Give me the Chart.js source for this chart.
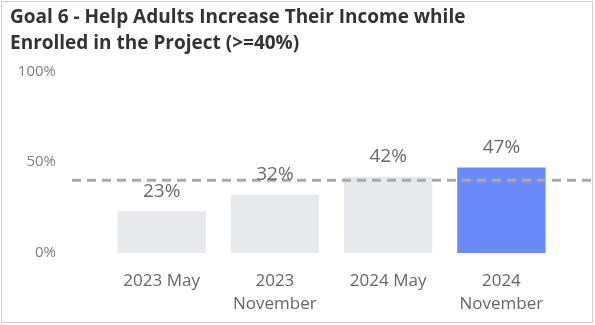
<!DOCTYPE html>
<html>
<head>
<meta charset="utf-8">
<script src="https://cdn.jsdelivr.net/npm/chart.js@4/dist/chart.umd.min.js"></script>
<style>
  html, body { margin: 0; padding: 0; background: #fff; }
  #frame {
    position: absolute; left: 1px; top: 1px;
    width: 592px; height: 322px;
    border: 1px solid #cfcfcf; box-sizing: border-box;
  }
  #wrap { position: absolute; left: 0; top: 0; width: 595px; height: 325px; }
</style>
</head>
<body>
<div id="frame"></div>
<div id="wrap"><canvas id="chart" width="595" height="325"></canvas></div>
<script>
// Reporting periods, share of enrolled adults with increased income, and the goal
const categories = [['2023 May'], ['2023', 'November'], ['2024 May'], ['2024', 'November']];
const values = [23, 32, 42, 47];
const barColors = ['#e8e9ec', '#e8e9ec', '#e8e9ec', '#6b8bfc'];
const yTicks = [0, 50, 100];
const targetValue = 40;
const titleLines = ['Goal 6 - Help Adults Increase Their Income while', 'Enrolled in the Project (>=40%)'];

const FONT = "'Open Sans', 'DejaVu Sans', sans-serif";

// Dashed target line across the plot, plus percentage labels above each bar
const overlayPlugin = {
  id: 'overlay',
  afterDatasetsDraw(chart) {
    const ctx = chart.ctx;
    const y = chart.scales.y.getPixelForValue(targetValue);
    ctx.save();
    ctx.strokeStyle = '#a9a9a9';
    ctx.lineWidth = 3;
    ctx.setLineDash([9, 6]);
    ctx.beginPath();
    ctx.moveTo(72, y);
    ctx.lineTo(595, y);
    ctx.stroke();
    ctx.setLineDash([]);

    const meta = chart.getDatasetMeta(0);
    ctx.fillStyle = '#6a6a6a';
    ctx.font = "19px " + FONT;
    ctx.textAlign = 'center';
    ctx.textBaseline = 'middle';
    meta.data.forEach((bar, i) => {
      ctx.fillText(values[i] + '%', bar.x, bar.y - 20);
    });
    ctx.restore();
  }
};

new Chart(document.getElementById('chart'), {
  type: 'bar',
  data: {
    labels: categories,
    datasets: [{
      data: values,
      backgroundColor: barColors,
      borderWidth: 0,
      categoryPercentage: 0.78,
      barPercentage: 1.0
    }]
  },
  options: {
    responsive: false,
    animation: false,
    layout: { padding: { left: 10, right: 37, top: 5, bottom: 8 } },
    plugins: {
      legend: { display: false },
      tooltip: { enabled: false },
      title: {
        display: true,
        text: titleLines,
        align: 'start',
        color: '#333333',
        font: { family: FONT, size: 19, weight: 'bold', lineHeight: 1.35 },
        padding: { top: 0, bottom: 15 }
      }
    },
    scales: {
      y: {
        min: 0, max: 100,
        afterBuildTicks(scale) { scale.ticks = yTicks.map(v => ({ value: v })); },
        afterFit(scale) { scale.width = 95; },
        grid: { display: false, drawTicks: false },
        border: { display: false },
        ticks: {
          padding: 49,
          color: '#808080',
          font: { family: FONT, size: 15 },
          callback: v => v + '%'
        }
      },
      x: {
        afterFit(scale) { scale.height = 64; },
        grid: { display: false, drawTicks: false },
        border: { display: false },
        ticks: {
          padding: 17,
          color: '#666666',
          font: { family: FONT, size: 17, lineHeight: 1.35 },
          maxRotation: 0,
          autoSkip: false
        }
      }
    }
  },
  plugins: [overlayPlugin]
});
</script>
</body>
</html>
